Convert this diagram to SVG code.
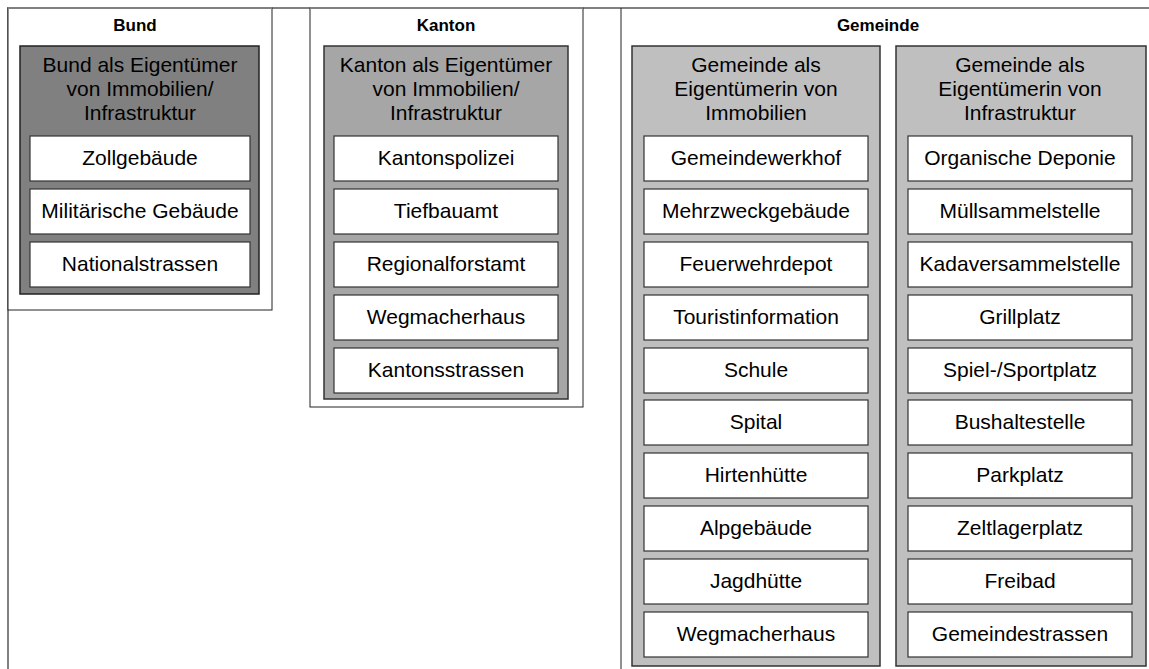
<svg xmlns="http://www.w3.org/2000/svg" width="1149" height="669" viewBox="0 0 1149 669">
<style>
text{font-family:"Liberation Sans",Arial,sans-serif;fill:#000;text-anchor:middle}
.t{font-size:17px;font-weight:bold}
.h{font-size:21px}
.i{font-size:21px}
.item{fill:#fff;stroke:#333;stroke-width:1.2}
.g1{fill:#808080;stroke:#222;stroke-width:1.5}
.g2{fill:#a6a6a6;stroke:#333;stroke-width:1.5}
.g3{fill:#bfbfbf;stroke:#333;stroke-width:1.5}
.lane{fill:#fff;stroke:#222;stroke-width:1}
</style>
<rect width="1149" height="669" fill="#fff"/>
<g id="frame">
<path d="M8,669 V8 H1149" fill="none" stroke="#808080" stroke-width="2"/>
</g>
<g id="bund">
<rect class="lane" x="8" y="8" width="264" height="302" stroke="#666"/>
<path d="M8,8 H272" stroke="#808080" stroke-width="2"/>
<text class="t" x="135" y="31">Bund</text>
<rect class="g1" x="20" y="46" width="239" height="248"/>
<text class="h" x="140" y="72">Bund als Eigentümer</text>
<text class="h" x="140" y="96">von Immobilien/</text>
<text class="h" x="140" y="120">Infrastruktur</text>
<g id="bund-items">
<rect class="item" x="30" y="136" width="220" height="45"/><text class="i" x="140" y="165">Zollgebäude</text>
<rect class="item" x="30" y="189" width="220" height="45"/><text class="i" x="140" y="218">Militärische Gebäude</text>
<rect class="item" x="30" y="242" width="220" height="45"/><text class="i" x="140" y="271">Nationalstrassen</text>
</g>
</g>
<g id="kanton">
<rect class="lane" x="310" y="8" width="273" height="399"/>
<path d="M310,8 H583" stroke="#808080" stroke-width="2"/>
<text class="t" x="446" y="31">Kanton</text>
<rect class="g2" x="324" y="46" width="244" height="353"/>
<text class="h" x="446" y="72">Kanton als Eigentümer</text>
<text class="h" x="446" y="96">von Immobilien/</text>
<text class="h" x="446" y="120">Infrastruktur</text>
<g id="kanton-items">
<rect class="item" x="334" y="136" width="224" height="45"/><text class="i" x="446" y="165">Kantonspolizei</text>
<rect class="item" x="334" y="189" width="224" height="45"/><text class="i" x="446" y="218">Tiefbauamt</text>
<rect class="item" x="334" y="242" width="224" height="45"/><text class="i" x="446" y="271">Regionalforstamt</text>
<rect class="item" x="334" y="295" width="224" height="45"/><text class="i" x="446" y="324">Wegmacherhaus</text>
<rect class="item" x="334" y="348" width="224" height="45"/><text class="i" x="446" y="377">Kantonsstrassen</text>
</g>
</g>
<g id="gemeinde">
<path d="M621,669 V8" stroke="#222" stroke-width="1"/>
<text class="t" x="878" y="31">Gemeinde</text>
<g id="gemeinde-immobilien">
<rect class="g3" x="632" y="46" width="248" height="620"/>
<text class="h" x="756" y="72">Gemeinde als</text>
<text class="h" x="756" y="96">Eigentümerin von</text>
<text class="h" x="756" y="120">Immobilien</text>
<rect class="item" x="644" y="136" width="224" height="45"/><text class="i" x="756" y="165">Gemeindewerkhof</text>
<rect class="item" x="644" y="189" width="224" height="45"/><text class="i" x="756" y="218">Mehrzweckgebäude</text>
<rect class="item" x="644" y="242" width="224" height="45"/><text class="i" x="756" y="271">Feuerwehrdepot</text>
<rect class="item" x="644" y="295" width="224" height="45"/><text class="i" x="756" y="324">Touristinformation</text>
<rect class="item" x="644" y="348" width="224" height="45"/><text class="i" x="756" y="377">Schule</text>
<rect class="item" x="644" y="400" width="224" height="45"/><text class="i" x="756" y="429">Spital</text>
<rect class="item" x="644" y="453" width="224" height="45"/><text class="i" x="756" y="482">Hirtenhütte</text>
<rect class="item" x="644" y="506" width="224" height="45"/><text class="i" x="756" y="535">Alpgebäude</text>
<rect class="item" x="644" y="559" width="224" height="45"/><text class="i" x="756" y="588">Jagdhütte</text>
<rect class="item" x="644" y="612" width="224" height="45"/><text class="i" x="756" y="641">Wegmacherhaus</text>
</g>
<g id="gemeinde-infrastruktur">
<rect class="g3" x="896" y="46" width="250" height="620"/>
<text class="h" x="1020" y="72">Gemeinde als</text>
<text class="h" x="1020" y="96">Eigentümerin von</text>
<text class="h" x="1020" y="120">Infrastruktur</text>
<rect class="item" x="908" y="136" width="224" height="45"/><text class="i" x="1020" y="165">Organische Deponie</text>
<rect class="item" x="908" y="189" width="224" height="45"/><text class="i" x="1020" y="218">Müllsammelstelle</text>
<rect class="item" x="908" y="242" width="224" height="45"/><text class="i" x="1020" y="271">Kadaversammelstelle</text>
<rect class="item" x="908" y="295" width="224" height="45"/><text class="i" x="1020" y="324">Grillplatz</text>
<rect class="item" x="908" y="348" width="224" height="45"/><text class="i" x="1020" y="377">Spiel-/Sportplatz</text>
<rect class="item" x="908" y="400" width="224" height="45"/><text class="i" x="1020" y="429">Bushaltestelle</text>
<rect class="item" x="908" y="453" width="224" height="45"/><text class="i" x="1020" y="482">Parkplatz</text>
<rect class="item" x="908" y="506" width="224" height="45"/><text class="i" x="1020" y="535">Zeltlagerplatz</text>
<rect class="item" x="908" y="559" width="224" height="45"/><text class="i" x="1020" y="588">Freibad</text>
<rect class="item" x="908" y="612" width="224" height="45"/><text class="i" x="1020" y="641">Gemeindestrassen</text>
</g>
</g>
</svg>
